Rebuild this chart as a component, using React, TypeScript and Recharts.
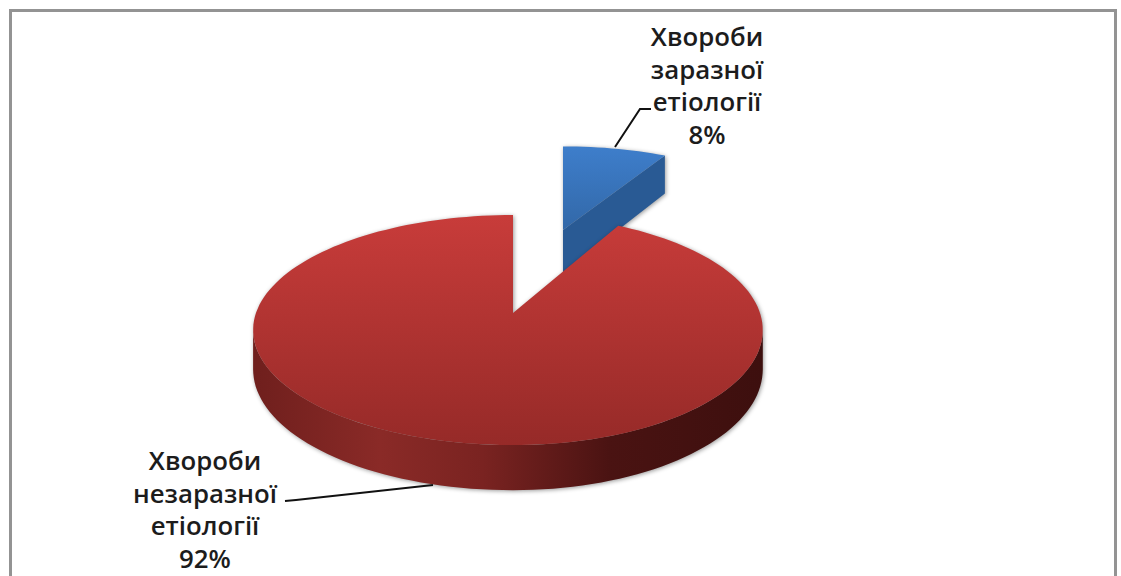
import { PieChart, Pie } from 'recharts'

const sliceNames = ['Хвороби заразної етіології', 'Хвороби незаразної етіології']
const sliceValues = [8, 92]

const data = sliceNames.map((name, i) => ({ name, value: sliceValues[i] }))

// tilted-disc projection for each slice: apex, half widths, near/far reach and wall height
const frames = [
  { ax: 563, ay: 230, bl: 239, br: 239, a: 96, k: 0.148, depth: 43, top: 'url(#blueTop)', wall: '#295a94' },
  { ax: 513, ay: 313, bl: 257, br: 247, a: 112.5, k: 0.148, depth: 38.5, top: 'url(#redTop)', wall: 'url(#redWall)' },
]

const labelLayouts = [
  { x: 707, y: 46, leader: '615,147 640,109 651,109' },
  { x: 205, y: 470, leader: '285,501 296,500 433,485' },
]

const LINE_HEIGHT = 32.5
const FONT = '"Open Sans", sans-serif'

type Frame = (typeof frames)[number]
type Point = { x: number; y: number }

function project(f: Frame, theta: number) {
  const rad = (theta * Math.PI) / 180
  const u = Math.sin(rad)
  const v = Math.cos(rad)
  const w = 1 + f.k * v
  return {
    x: f.ax + ((u < 0 ? f.bl : f.br) * u) / w,
    y: f.ay - (f.a * v) / w,
    // the wall shortens with distance, same as the disc
    h: f.depth / w,
  }
}

const toPath = (pts: Point[]) =>
  pts.map((p, i) => `${i ? 'L' : 'M'}${p.x.toFixed(1)} ${p.y.toFixed(1)}`).join(' ') + ' Z'

function arcPoints(f: Frame, from: number, to: number) {
  const pts = []
  const steps = Math.max(2, Math.ceil((to - from) / 2))
  for (let i = 0; i <= steps; i++) pts.push(project(f, from + ((to - from) * i) / steps))
  return pts
}

function SliceShape(props: any) {
  const f = frames[props.index ?? 0]
  // recharts angles run counter-clockwise from 3 o'clock, the projection clockwise from 12
  const from = 90 - props.startAngle
  const to = 90 - props.endAngle
  const apex = { x: f.ax, y: f.ay, h: f.depth }
  const drop = (p: Point & { h: number }) => ({ x: p.x, y: p.y + p.h })

  // only the rim between the two side extremes faces the viewer
  const edge = (Math.acos(-f.k) * 180) / Math.PI
  const rimFrom = Math.max(from, edge)
  const rimTo = Math.min(to, 360 - edge)
  const rim = rimTo > rimFrom ? arcPoints(f, rimFrom, rimTo) : []
  const end = project(f, to)

  return (
    <g style={{ filter: 'drop-shadow(1px 1px 2px rgba(0,0,0,0.4))' }}>
      {rim.length > 0 && (
        <path d={toPath([...rim, ...rim.map(drop).reverse()])} fill={f.wall} />
      )}
      <path d={toPath([apex, end, drop(end), drop(apex)])} fill={f.wall} />
      <path d={toPath([apex, ...arcPoints(f, from, to)])} fill={f.top} />
    </g>
  )
}

function SliceLabel(props: any) {
  const layout = labelLayouts[props.index]
  const lines = [...props.name.split(' '), `${props.value}%`]
  return (
    <g>
      <polyline points={layout.leader} fill="none" stroke="#111" strokeWidth={2} />
      <text
        textAnchor="middle"
        fontFamily={FONT}
        fontSize={25.8}
        fontWeight={600}
        fill="#1c1c1c"
      >
        {lines.map((line: string, i: number) => (
          <tspan key={i} x={layout.x} y={layout.y + i * LINE_HEIGHT}>
            {line}
          </tspan>
        ))}
      </text>
    </g>
  )
}

export default function App() {
  return (
    <div
      style={{
        position: 'absolute',
        left: 0,
        top: 0,
        width: 1121,
        height: 576,
        overflow: 'hidden',
        background: '#fff',
      }}
    >
      <div
        style={{
          position: 'absolute',
          left: 9,
          top: 9,
          width: 1102,
          height: 600,
          border: '3px solid #939393',
        }}
      />
      <div style={{ position: 'absolute', left: 0, top: 0 }}>
        <PieChart width={1121} height={576} margin={{ top: 0, right: 0, bottom: 0, left: 0 }}>
          <defs>
            <linearGradient id="redTop" x1="0" y1="0" x2="0" y2="1">
              <stop offset="0%" stopColor="#c83c3a" />
              <stop offset="100%" stopColor="#962a28" />
            </linearGradient>
            <linearGradient id="blueTop" x1="0" y1="0" x2="0" y2="1">
              <stop offset="0%" stopColor="#3e7ecb" />
              <stop offset="100%" stopColor="#3268a8" />
            </linearGradient>
            <linearGradient id="redWall" gradientUnits="userSpaceOnUse" x1="253" y1="0" x2="763" y2="0">
              <stop offset="0%" stopColor="#6f1f1d" />
              <stop offset="25%" stopColor="#8a2a27" />
              <stop offset="45%" stopColor="#7a2321" />
              <stop offset="70%" stopColor="#4a1312" />
              <stop offset="100%" stopColor="#3d0f0e" />
            </linearGradient>
          </defs>
          <Pie
            data={data}
            dataKey="value"
            nameKey="name"
            cx={508}
            cy={330}
            outerRadius={255}
            startAngle={90}
            endAngle={-270}
            stroke="none"
            isAnimationActive={false}
            shape={SliceShape}
            label={SliceLabel}
            labelLine={false}
          />
        </PieChart>
      </div>
    </div>
  )
}
